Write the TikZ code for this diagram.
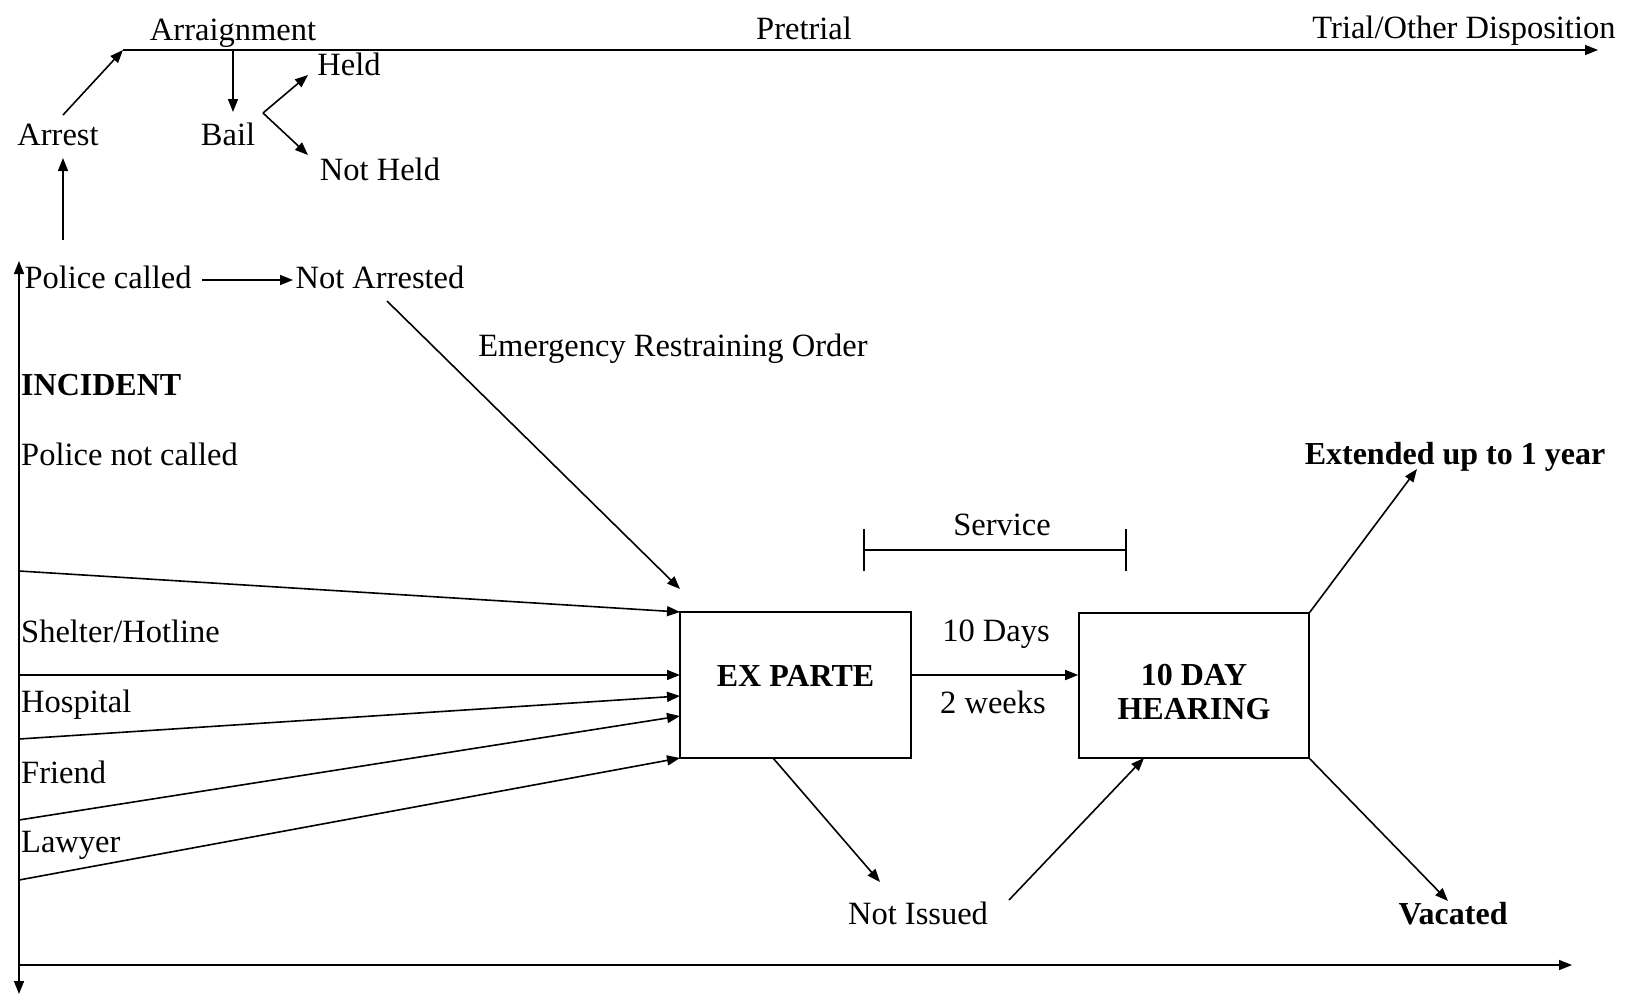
\documentclass[tikz,border=0pt]{standalone}
\usepackage{fontspec}
\setmainfont{Liberation Serif}
\usetikzlibrary{arrows.meta}
\begin{document}
\begin{tikzpicture}[x=1pt,y=-1pt,
  lbl/.style={inner sep=0pt, font=\fontsize{32.5}{35}\selectfont},
  blbl/.style={inner sep=0pt, font=\fontsize{32}{34}\selectfont\bfseries},
  box/.style={draw, line width=1.6pt, inner sep=0pt, font=\fontsize{32}{34}\selectfont\bfseries},
  ln/.style={line width=1.6pt},
  arr/.style={ln, -{Triangle[length=13pt,width=10pt]}},
]
\useasboundingbox (0,0) rectangle (1627,997);

% text nodes
\node[lbl] (arraign) at (233,33) {Arraignment};
\node[lbl] (pretrial) at (804,28) {Pretrial};
\node[lbl] (trial) at (1464,31) {Trial/Other Disposition};
\node[lbl] (held) at (349,64) {Held};
\node[lbl] (bail) at (228,134) {Bail};
\node[lbl] (arrest) at (58,135) {Arrest};
\node[lbl] (notheld) at (380,169) {Not Held};
\node[lbl] (police) at (108,277) {Police called};
\node[lbl] (notarr) at (380,277) {Not Arrested};
\node[blbl, anchor=west] (incident) at (21,385) {INCIDENT};
\node[lbl, anchor=west] (pnc) at (21,454) {Police not called};
\node[lbl] (ero) at (673,349) {Emergency Restraining Order};
\node[lbl, anchor=west] (shelter) at (21,631) {Shelter/Hotline};
\node[lbl, anchor=west] (hospital) at (21,705) {Hospital};
\node[lbl, anchor=west] (friend) at (21,772) {Friend};
\node[lbl, anchor=west] (lawyer) at (21,845) {Lawyer};
\node[lbl] (service) at (1002,525) {Service};
\node[lbl] (tendays) at (996,634) {10 Days};
\node[lbl] (twoweeks) at (993,702) {2 weeks};
\node[blbl] (extended) at (1455,457) {Extended up to 1 year};
\node[lbl] (notissued) at (918,913) {Not Issued};
\node[blbl] (vacated) at (1453,914) {Vacated};

% boxes
\node[box, minimum width=231pt, minimum height=146pt] (exparte) at (795.5,685)
  {\raisebox{-3pt}{\smash{EX PARTE}}};
\node[box, minimum width=230pt, minimum height=145pt] (hearing) at (1194,685.5)
  {\raisebox{-32pt}{\smash{\begin{tabular}{@{}c@{}}10 DAY\\HEARING\end{tabular}}}};

% coordinates
\coordinate (arrestTop) at (63,115);
\coordinate (tl) at (123,50);
\coordinate (tend) at (1598,50);
\coordinate (bailTop) at (233,50);
\coordinate (bailTip) at (233,112);
\coordinate (bsplit) at (263,113);
\coordinate (heldTip) at (308,75);
\coordinate (notheldTip) at (308,155);
\coordinate (policeUp) at (63,240);
\coordinate (arrestBot) at (63,158);
\coordinate (pcEnd) at (202,280);
\coordinate (naStart) at (293,280);
\coordinate (vTop) at (19,261);
\coordinate (vBot) at (19,994);
\coordinate (bStart) at (19,965);
\coordinate (bEnd) at (1572,965);
\coordinate (naBot) at (387,301);
\coordinate (eroTip) at (680,589);
\coordinate (f1s) at (19,571);  \coordinate (f1e) at (680,612);
\coordinate (f2s) at (19,675);  \coordinate (f2e) at (680,675);
\coordinate (f3s) at (19,739);  \coordinate (f3e) at (680,696);
\coordinate (f4s) at (19,820);  \coordinate (f4e) at (680,716);
\coordinate (f5s) at (19,880);  \coordinate (f5e) at (680,758);
\coordinate (exBot) at (773,758);
\coordinate (niTip) at (880,882);
\coordinate (niStart) at (1009,900);
\coordinate (hBot) at (1144,758);
\coordinate (extTip) at (1417,469);
\coordinate (vacTip) at (1448,901);
\coordinate (svL) at (864,550);
\coordinate (svR) at (1126,550);

% top timeline
\draw[arr] (arrestTop) -- (tl);
\draw[arr] (tl) -- (tend);
\draw[arr] (bailTop) -- (bailTip);
\draw[arr] (bsplit) -- (heldTip);
\draw[arr] (bsplit) -- (notheldTip);
\draw[arr] (policeUp) -- (arrestBot);
\draw[arr] (pcEnd) -- (naStart);

% left axis and bottom
\draw[ln, {Triangle[length=13pt,width=10pt]}-{Triangle[length=13pt,width=10pt]}] (vTop) -- (vBot);
\draw[arr] (bStart) -- (bEnd);

% into ex parte
\draw[arr] (naBot) -- (eroTip);
\draw[arr] (f1s) -- (f1e);
\draw[arr] (f2s) -- (f2e);
\draw[arr] (f3s) -- (f3e);
\draw[arr] (f4s) -- (f4e);
\draw[arr] (f5s) -- (f5e);

% between boxes
\draw[arr] (exparte.east |- f2e) -- (hearing.west |- f2e);
\draw[arr] (exBot) -- (niTip);
\draw[arr] (niStart) -- (hBot);
\draw[arr] (hearing.north east) -- (extTip);
\draw[arr] (hearing.south east) -- (vacTip);

% service bracket
\draw[ln] (svL) -- (svR);
\draw[ln] ([yshift=-21pt]svL) -- ([yshift=21pt]svL);
\draw[ln] ([yshift=-21pt]svR) -- ([yshift=21pt]svR);
\end{tikzpicture}
\end{document}
